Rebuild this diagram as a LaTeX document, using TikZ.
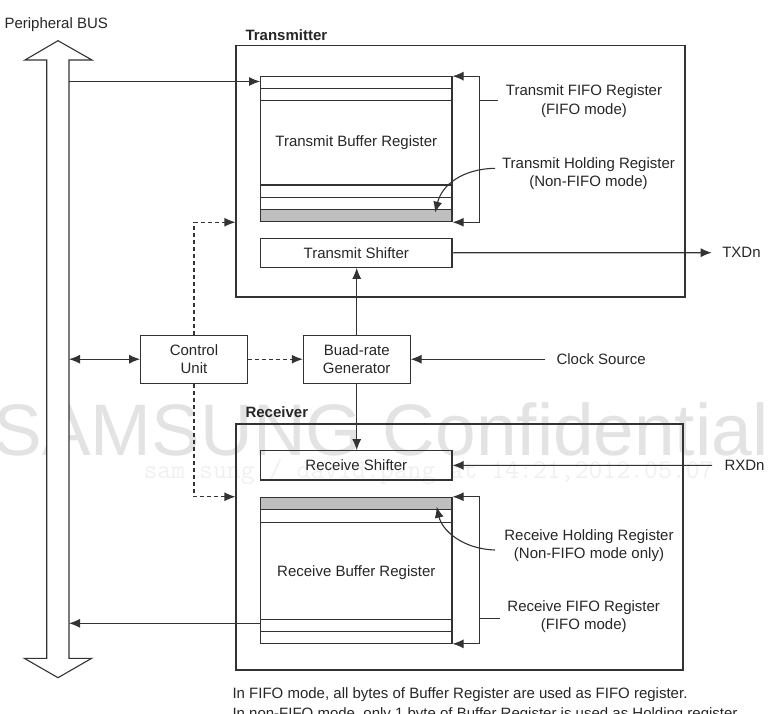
\documentclass[tikz,border=0pt]{standalone}
\usepackage{fontspec}
\setmainfont{Liberation Sans}
\usetikzlibrary{arrows.meta}
\begin{document}
\begin{tikzpicture}[x=1pt,y=-1pt,line width=1.1pt,draw=black!80,
  font=\fontsize{15}{18.3}\selectfont,text=black!85,
  tip/.style={-{Latex[length=11pt,width=9pt]}},
  dtip/.style={{Latex[length=11pt,width=9pt]}-{Latex[length=11pt,width=9pt]}},
  box/.style={draw,inner sep=0pt,align=center},
  lbl/.style={inner sep=0pt,align=center},
  dline/.style={dash pattern=on 4pt off 3pt}]
\useasboundingbox (0,0) rectangle (776,714);
% watermark
\node[anchor=base east,inner sep=0pt,text=gray!22,font=\fontsize{73}{73}\selectfont] (wm) at (769,455) {SAMSUNG Confidential};
\node[anchor=base west,inner sep=0pt,text=gray!12,font=\ttfamily\fontsize{27}{27}\selectfont] (wm2) at (143,478) {sam sung / david.pang at 14:21,2012.05.07};
% peripheral bus
\draw[fill=white] (46.7,658.3) -- (24.3,658.3) -- (58,677.7) -- (91.7,658.3) -- (69,658.3) -- (69,60) -- (92,60) -- (58,40.7) -- (25,60) -- (46.7,60) -- cycle;
\node[anchor=west,inner sep=0pt] (pbus) at (4,25) {Peripheral BUS};
\coordinate (b1) at (69,81.5);
\coordinate (b2) at (69,359.2);
\coordinate (b3) at (69,623.3);
% transmitter
\node[box,minimum width=449pt,minimum height=251.3pt] (tx) at (460.5,171.35) {};
\node[anchor=west,inner sep=0pt,font=\fontsize{15}{18}\selectfont\bfseries] (txl) at (245,35) {Transmitter};
\node[box,minimum width=191.3pt,minimum height=145pt] (tbuf) at (356.35,149.2) {};
\foreach \yy in {88.7,100.7,185,197.3} \draw (260.7,\yy) -- (452,\yy);
\filldraw[fill=gray!50] (260.7,209.3) rectangle (452,221.7);
\node[lbl] (tbuft) at (356.3,143) {Transmit Buffer Register};
\node[box,minimum width=191.3pt,minimum height=29pt] (tsh) at (356.35,252.8) {Transmit Shifter};
% control / baud
\node[box,minimum width=106.6pt,minimum height=48.3pt] (ctrl) at (194,359.2) {Control\\Unit};
\node[box,minimum width=106.7pt,minimum height=48.3pt] (baud) at (356.7,359.2) {Buad-rate\\Generator};
\node[anchor=west,inner sep=0pt] (clk) at (556,359.2) {Clock Source};
% receiver
\node[box,minimum width=447pt,minimum height=246pt] (rx) at (459.5,547) {};
\node[anchor=west,inner sep=0pt,font=\fontsize{15}{18}\selectfont\bfseries] (rxl) at (245,412) {Receiver};
\node[box,minimum width=191.3pt,minimum height=29.3pt] (rsh) at (356.35,465.35) {Receive Shifter};
\node[box,minimum width=191.3pt,minimum height=146pt] (rbuf) at (356.35,570.3) {};
\filldraw[fill=gray!50] (260.7,497.3) rectangle (452,509.3);
\foreach \yy in {522.7,619.3,631.7} \draw (260.7,\yy) -- (452,\yy);
\node[lbl] (rbuft) at (356.3,572.3) {Receive Buffer Register};
% labels
\node[lbl] (tfifo) at (584,101) {Transmit FIFO Register\\(FIFO mode)};
\node[lbl] (thold) at (588.5,173.7) {Transmit Holding Register\\(Non-FIFO mode)};
\node[lbl] (rhold) at (589,545.5) {Receive Holding Register\\(Non-FIFO mode only)};
\node[lbl] (rfifo) at (583.7,616.7) {Receive FIFO Register\\(FIFO mode)};
\node[anchor=west,inner sep=0pt] (txd) at (721.7,252.7) {TXDn};
\node[anchor=west,inner sep=0pt] (rxd) at (724,465.3) {RXDn};
\node[anchor=west,inner sep=0pt] (n1) at (232,695) {In FIFO mode, all bytes of Buffer Register are used as FIFO register.};
\node[anchor=west,inner sep=0pt] (n2) at (232,715) {In non-FIFO mode, only 1 byte of Buffer Register is used as Holding register.};
% connectors
\draw[tip] (b1) -- (b1 -| tbuf.west);
\draw[dtip] (b2) -- (ctrl.west);
\draw[tip] (rbuf.west |- b3) -- (b3);
\draw[dline,tip] (ctrl.north) |- (tx.west |- tbuf.south);
\draw[dline,tip] (ctrl.south) |- (rx.west |- rbuf.north);
\draw[dline,tip] (ctrl.east) -- (baud.west);
\draw[tip] (baud.north) -- (baud.north |- tsh.south);
\draw[tip] (baud.south) -- (baud.south |- rsh.north);
\draw[tip] ([xshift=-11pt]clk.west) -- (baud.east);
\draw[tip] (tsh.east) -- ([xshift=-10pt]txd.west);
\draw[tip] ([xshift=-12pt]rxd.west) -- (rsh.east);
% brackets
\coordinate (tbr) at (479.3,149);
\coordinate (rbr) at (479.3,570);
\draw[dtip] (tbuf.north east) -| (tbr) |- (tbuf.south east);
\draw[dtip] (rbuf.north east) -| (rbr) |- (rbuf.south east);
\coordinate (tk1) at (479.3,100.7);
\coordinate (tk2) at (479.3,618.3);
\draw (tk1) -- ([xshift=-7pt]tfifo.west |- tk1);
\draw (tk2) -- ([xshift=-7pt]rfifo.west |- tk2);
\coordinate (c1) at (495,168.3);
\coordinate (c2) at (495,550);
\draw[tip] (c1) .. controls (462,169) and (442,185) .. (435,212.7);
\draw[tip] (c2) .. controls (462,549) and (442,530) .. (436.7,506.7);
\end{tikzpicture}
\end{document}
